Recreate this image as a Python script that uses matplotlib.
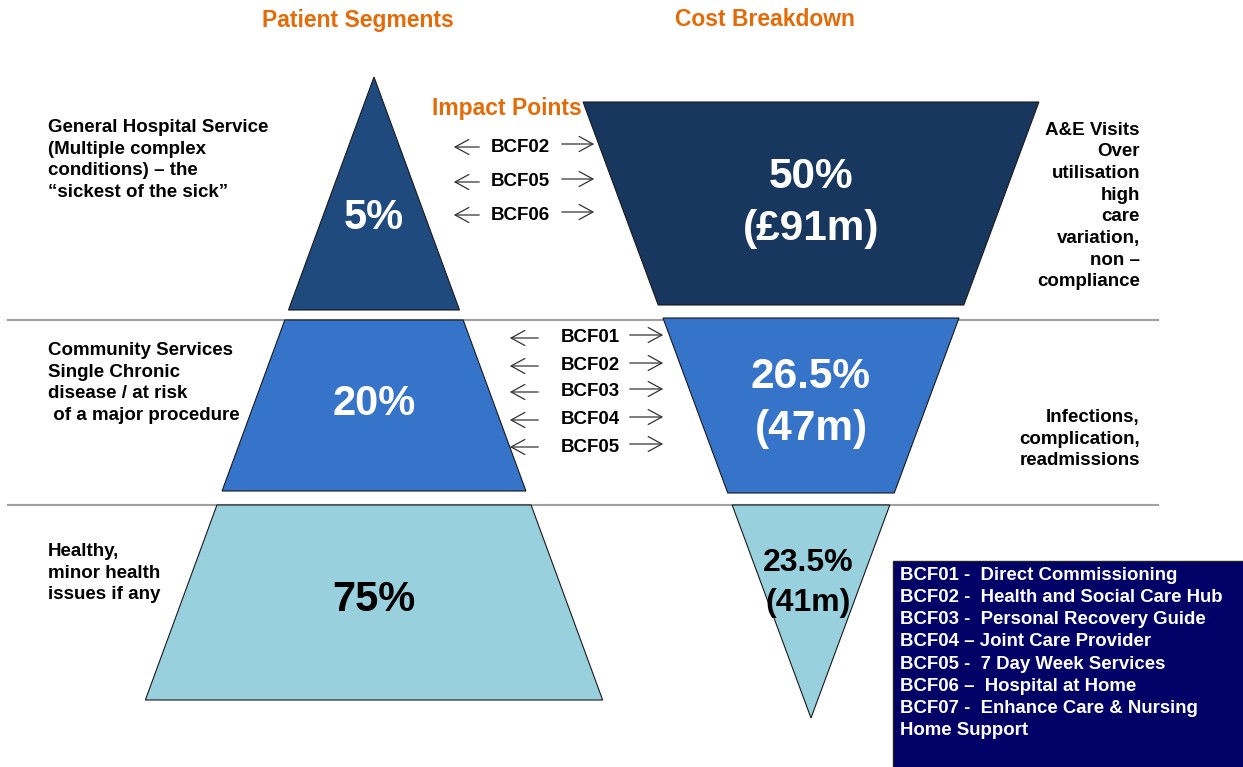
import matplotlib.pyplot as plt
from matplotlib.patches import Polygon, Rectangle

plt.rcParams['font.family'] = ['Liberation Sans', 'DejaVu Sans']

# ---- chart content ----
segments = ['General Hospital Service\n(Multiple complex\nconditions) \u2013 the\n\u201csickest of the sick\u201d',
            'Community Services\nSingle Chronic\ndisease / at risk\n of a major procedure',
            'Healthy,\nminor health\nissues if any']
segment_share = ['5%', '20%', '75%']
cost_share = ['50%\n(\u00a391m)', '26.5%\n(47m)', '23.5%\n(41m)']
cost_drivers = ['A&E Visits\nOver\nutilisation\nhigh\ncare\nvariation,\nnon \u2013\ncompliance',
                'Infections,\ncomplication,\nreadmissions',
                '']
impact_points = [['BCF02', 'BCF05', 'BCF06'],
                 ['BCF01', 'BCF02', 'BCF03', 'BCF04', 'BCF05'],
                 []]
bcf_legend = ['BCF01 -  Direct Commissioning',
              'BCF02 -  Health and Social Care Hub',
              'BCF03 -  Personal Recovery Guide',
              'BCF04 \u2013 Joint Care Provider',
              'BCF05 -  7 Day Week Services',
              'BCF06 \u2013  Hospital at Home',
              'BCF07 -  Enhance Care & Nursing',
              'Home Support']

# ---- layout (pixel space) ----
tier_colors = ['#1f4a7e', '#3674ca', '#99d0de']
cost_colors = ['#17375e', '#3674ca', '#99d0de']
pct_colors = ['white', 'white', 'black']
left_tiers = [(77, 310), (320, 491), (505, 700)]
right_tiers = [(102, 305), (318, 493), (505, 718)]
left_apex_x, left_apex_y, left_slope = 374, 77, 0.367
right_apex_x, right_apex_y, right_slope = 811, 718, 0.37
orange = '#e36c09'

fig = plt.figure(figsize=(12.43, 7.67), dpi=100)
ax = fig.add_axes([0, 0, 1, 1])
ax.set_xlim(0, 1243)
ax.set_ylim(767, 0)
ax.axis('off')

# titles
ax.text(358, 20, 'Patient Segments', color=orange, fontsize=16.5, fontweight='bold', ha='center', va='center')
ax.text(765, 20, 'Cost Breakdown', color=orange, fontsize=16.5, fontweight='bold', ha='center', va='center')
ax.text(507, 108, 'Impact Points', color=orange, fontsize=16.5, fontweight='bold', ha='center', va='center')

# separators
for y in [320, 505]:
    ax.plot([8, 1158], [y, y], color='#a0a0a0', lw=1.5, zorder=1)

for i in range(3):
    # left pyramid tier
    y0, y1 = left_tiers[i]
    w0 = left_slope * (y0 - left_apex_y)
    w1 = left_slope * (y1 - left_apex_y)
    pts = [(left_apex_x - w0, y0), (left_apex_x + w0, y0), (left_apex_x + w1, y1), (left_apex_x - w1, y1)]
    ax.add_patch(Polygon(pts, closed=True, facecolor=tier_colors[i], edgecolor='#1a1a1a', lw=0.8, zorder=2))
    cy = [218, 404, 600][i]
    ax.text(left_apex_x, cy, segment_share[i], color=pct_colors[i], fontsize=30, fontweight='bold',
            ha='center', va='center', zorder=3)

    # right inverted pyramid tier
    y0, y1 = right_tiers[i]
    w0 = right_slope * (right_apex_y - y0)
    w1 = right_slope * (right_apex_y - y1)
    pts = [(right_apex_x - w0, y0), (right_apex_x + w0, y0), (right_apex_x + w1, y1), (right_apex_x - w1, y1)]
    ax.add_patch(Polygon(pts, closed=True, facecolor=cost_colors[i], edgecolor='#1a1a1a', lw=0.8, zorder=2))
    cy = [203, 403, 583][i]
    fs = [30.5, 30.5, 23][i]
    ls = [1.38, 1.38, 1.45][i]
    ax.text(right_apex_x - [0, 0, 3][i], cy, cost_share[i], color=pct_colors[i], fontsize=fs, fontweight='bold',
            ha='center', va='center', linespacing=ls, zorder=3)

    # segment labels
    ax.text(48, [160, 383, 573][i], segments[i], fontsize=13.5, fontweight='bold', ha='left', va='center',
            linespacing=1.36)
    # cost drivers
    if cost_drivers[i]:
        ax.text(1140, [206, 439, 0][i], cost_drivers[i], fontsize=13.5, fontweight='bold', ha='right',
                va='center', linespacing=1.36)

# impact point arrows
rows = [[147, 182, 215], [338, 366, 392, 420, 447]]
label_x = [520, 590]
left_arr = [(451, 482), (507, 541)]
right_arr = [(559, 597), (627, 666)]
arrow_kw = dict(arrowstyle='->,head_length=0.55,head_width=0.3', color='#333333', lw=0.9, mutation_scale=18)
for t in range(2):
    for j, name in enumerate(impact_points[t]):
        y = rows[t][j]
        ax.text(label_x[t], y, name, fontsize=13.5, fontweight='bold', ha='center', va='center')
        ax.annotate('', xy=(left_arr[t][0], y), xytext=(left_arr[t][1], y), arrowprops=arrow_kw)
        ax.annotate('', xy=(right_arr[t][1], y - 3), xytext=(right_arr[t][0], y - 3), arrowprops=arrow_kw)

# BCF legend box
ax.add_patch(Rectangle((893, 561), 352, 210, facecolor='#000066', edgecolor='#222222', lw=1, zorder=2))
ax.text(900, 653, '\n'.join(bcf_legend), color='white', fontsize=13.4, fontweight='bold', ha='left',
        va='center', linespacing=1.39, zorder=3)

fig.savefig('out.png', dpi=100)
